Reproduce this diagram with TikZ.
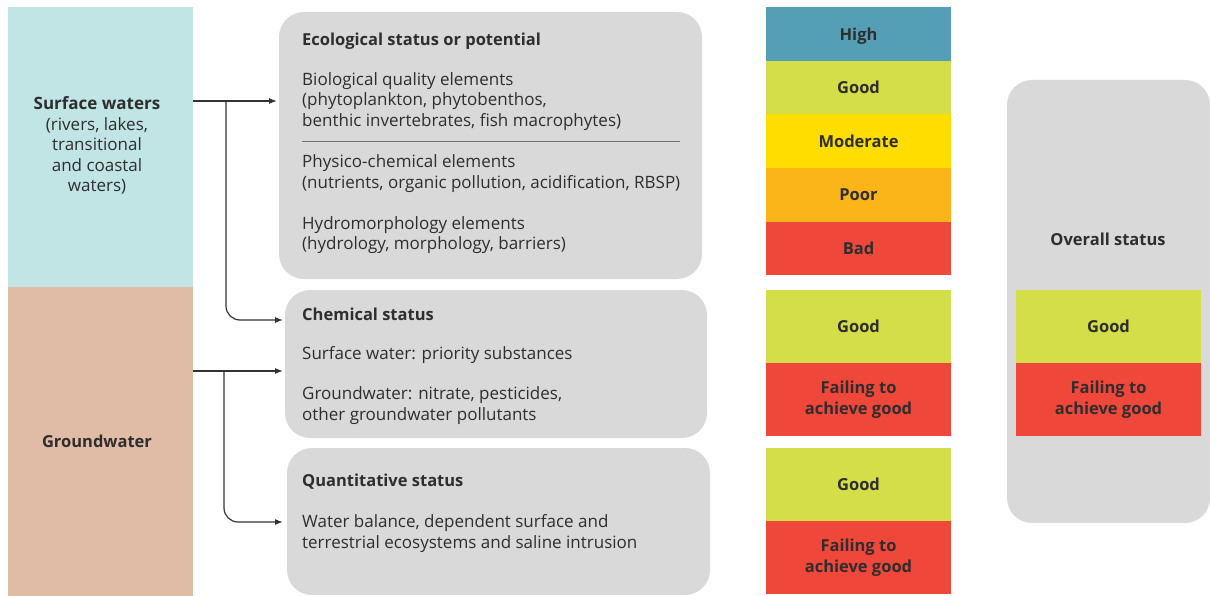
\documentclass[tikz,border=0pt]{standalone}
\usepackage{fontspec}
\setmainfont{Open Sans}
\usetikzlibrary{arrows.meta}
\definecolor{swcol}{HTML}{C1E4E4}
\definecolor{gwcol}{HTML}{E0BBA5}
\definecolor{boxgray}{HTML}{D9D9D9}
\definecolor{highcol}{HTML}{559FB6}
\definecolor{goodcol}{HTML}{D4DE48}
\definecolor{modcol}{HTML}{FFDD00}
\definecolor{poorcol}{HTML}{FBB518}
\definecolor{badcol}{HTML}{EF473A}
\definecolor{txt}{HTML}{2E2E2E}
\definecolor{linecol}{HTML}{333333}
\tikzset{
  water/.style={anchor=north west,inner sep=0pt,outer sep=0pt},
  panel/.style={anchor=north west,fill=boxgray,rounded corners=25pt,inner sep=0pt,outer sep=0pt},
  grade/.style={anchor=north west,minimum width=185pt,inner sep=0pt,outer sep=0pt,
    text=txt,align=center,font=\fontsize{16.5}{20.5}\selectfont\bfseries},
  body/.style={anchor=west,align=left,inner sep=0pt,text=txt,font=\fontsize{17}{20.5}\selectfont},
  head/.style={body,font=\fontsize{16.5}{20.5}\selectfont\bfseries},
  conn/.style={draw=linecol,line width=1.2pt,-{Latex[length=8pt,width=6pt]}}
}
\begin{document}
\begin{tikzpicture}[x=1pt,y=-1pt]
   \useasboundingbox (0,0) rectangle (1210,596);
   % water bodies
   \node[water,fill=swcol,minimum width=185pt,minimum height=280pt] (sw) at (8,7) {};
   \node[water,fill=gwcol,minimum width=185pt,minimum height=309pt] (gw) at (8,287) {};
   \node[body,anchor=center,align=center] (swtext) at (97,145.5)
      {\textbf{Surface waters}\\(rivers, lakes,\\transitional\\and coastal\\waters)};
   \node[head,anchor=center] (gwtext) at (97,441) {Groundwater};

   % status panels
   \node[panel,minimum width=423pt,minimum height=267pt] (eco) at (279,12) {};
   \node[panel,minimum width=422pt,minimum height=148pt] (chem) at (285,290) {};
   \node[panel,minimum width=423pt,minimum height=147pt] (quant) at (287,448) {};

   \node[head] (ecohead) at (302,41) {Ecological status or potential};
   \node[body] (bio) at (302,101.5) {Biological quality elements\\
      (phytoplankton, phytobenthos,\\benthic invertebrates, fish macrophytes)};
   \draw[draw=gray!90!black,line width=1pt] (302,141.5) -- (680,141.5);
   \node[body] (phys) at (302,173.5) {Physico-chemical elements\\
      (nutrients, organic pollution, acidification, RBSP)};
   \node[body] (hydro) at (302,235) {Hydromorphology elements\\
      (hydrology, morphology, barriers)};

   \node[head] (chemhead) at (302,314) {Chemical status};
   \node[body] (chemsw) at (302,355) {Surface water: priority substances};
   \node[body] (chemgw) at (302,405.5) {Groundwater: nitrate, pesticides,\\
      other groundwater pollutants};

   \node[head] (quanthead) at (302,482) {Quantitative status};
   \node[body] (quantbody) at (302,533.5) {Water balance, dependent surface and\\
      terrestrial ecosystems and saline intrusion};

   % classes
   \node[grade,fill=highcol,minimum height=54pt,text depth=0pt] (high) at (766,7) {High};
   \node[grade,fill=goodcol,minimum height=53pt] (good) at (766,61) {Good};
   \node[grade,fill=modcol,minimum height=54pt] (moderate) at (766,114) {Moderate};
   \node[grade,fill=poorcol,minimum height=54pt] (poor) at (766,168) {Poor};
   \node[grade,fill=badcol,minimum height=53pt] (bad) at (766,222) {Bad};

   \node[grade,fill=goodcol,minimum height=73pt] (chemgood) at (766,290) {Good};
   \node[grade,fill=badcol,minimum height=73pt] (chemfail) at (766,363) {Failing to\\achieve good};
   \node[grade,fill=goodcol,minimum height=73pt] (quantgood) at (766,448) {Good};
   \node[grade,fill=badcol,minimum height=73pt] (quantfail) at (766,521) {Failing to\\achieve good};

   % overall
   \node[panel,minimum width=203pt,minimum height=443pt] (overall) at (1007,80) {};
   \node[head,anchor=center] (overallhead) at (1108,239) {Overall status};
   \node[grade,fill=goodcol,minimum height=73pt] (allgood) at (1016,290) {Good};
   \node[grade,fill=badcol,minimum height=73pt] (allfail) at (1016,363) {Failing to\\achieve good};

   % connectors
   \coordinate (swout) at (193,101);
   \coordinate (swsplit) at (226,101);
   \coordinate (ecoin) at (277,101);
   \coordinate (chemin1) at (283,320);
   \coordinate (gwout) at (193,371);
   \coordinate (gwsplit) at (224,371);
   \coordinate (chemin2) at (283,371);
   \coordinate (quantin) at (283,522);
   \draw[conn] (swout) -- (ecoin);
   \draw[conn,rounded corners=14pt] (swsplit) |- (chemin1);
   \draw[conn] (gwout) -- (chemin2);
   \draw[conn,rounded corners=14pt] (gwsplit) |- (quantin);
\end{tikzpicture}
\end{document}
